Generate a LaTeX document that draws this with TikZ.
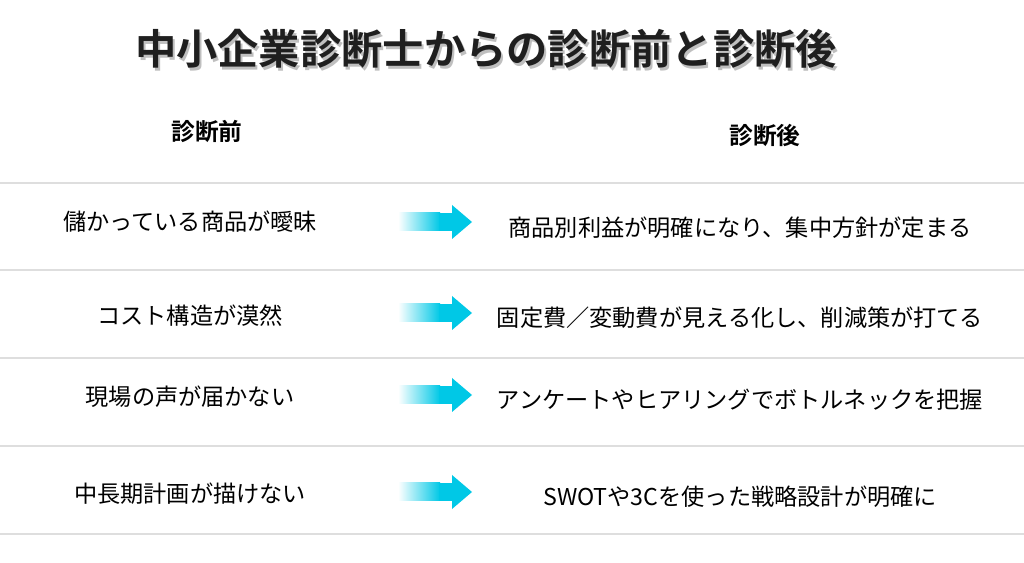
\documentclass[tikz,border=0pt]{standalone}
\usepackage{fontspec}
\setmainfont{Noto Sans CJK JP}
\newfontfamily\boldjp{Noto Sans CJK JP Bold}
\usetikzlibrary{positioning}
\definecolor{arrowcyan}{HTML}{00C8E6}
\definecolor{rulegray}{HTML}{DEDEDE}
\tikzset{
  rowtext/.style={font=\fontsize{13.2}{15}\selectfont},
  headtext/.style={font=\boldjp\fontsize{13.5}{15}\selectfont},
  rowline/.style={rulegray,line width=1.6pt},
}
\newcommand{\gradarrow}[1]{%
  \shade[left color=white,right color=arrowcyan]
    (398,#1-9)rectangle(440,#1+9);
  \fill[arrowcyan](439,#1-9)rectangle(453,#1+9);
  \fill[arrowcyan](452,#1-17)--(472,#1)--(452,#1+17)--cycle;}
\begin{document}
\begin{tikzpicture}[x=0.02cm,y=-0.02cm]
\useasboundingbox[fill=white](0,0)rectangle(1024,563);
%title
\node[font=\boldjp\fontsize{23.5}{26}\selectfont,text=black!25](titleshadow)at(488,52){中小企業診断士からの診断前と診断後};
\node[font=\boldjp\fontsize{23.5}{26}\selectfont,text=black!88](title)at(486,49){中小企業診断士からの診断前と診断後};
%headers
\node[headtext](before)at(207,131){診断前};
\node[headtext](after)at(765,135){診断後};
%lines
\foreach \y in {183,270,358,446,534}
  \draw[rowline](0,\y)--(1024,\y);
%rows
\node[rowtext](b1)at(190,222){儲かっている商品が曖昧};
\node[rowtext](a1)at(740,228){商品別利益が明確になり、集中方針が定まる};
\node[rowtext](b2)at(190,316){コスト構造が漠然};
\node[rowtext](a2)at(740,318){固定費／変動費が見える化し、削減策が打てる};
\node[rowtext](b3)at(190,397){現場の声が届かない};
\node[rowtext](a3)at(740,400){アンケートやヒアリングでボトルネックを把握};
\node[rowtext](b4)at(190,494){中長期計画が描けない};
\node[rowtext](a4)at(740,497){SWOTや3Cを使った戦略設計が明確に};
%arrows
\foreach \y in {222,313,395,492}{\gradarrow{\y}}
\end{tikzpicture}
\end{document}
